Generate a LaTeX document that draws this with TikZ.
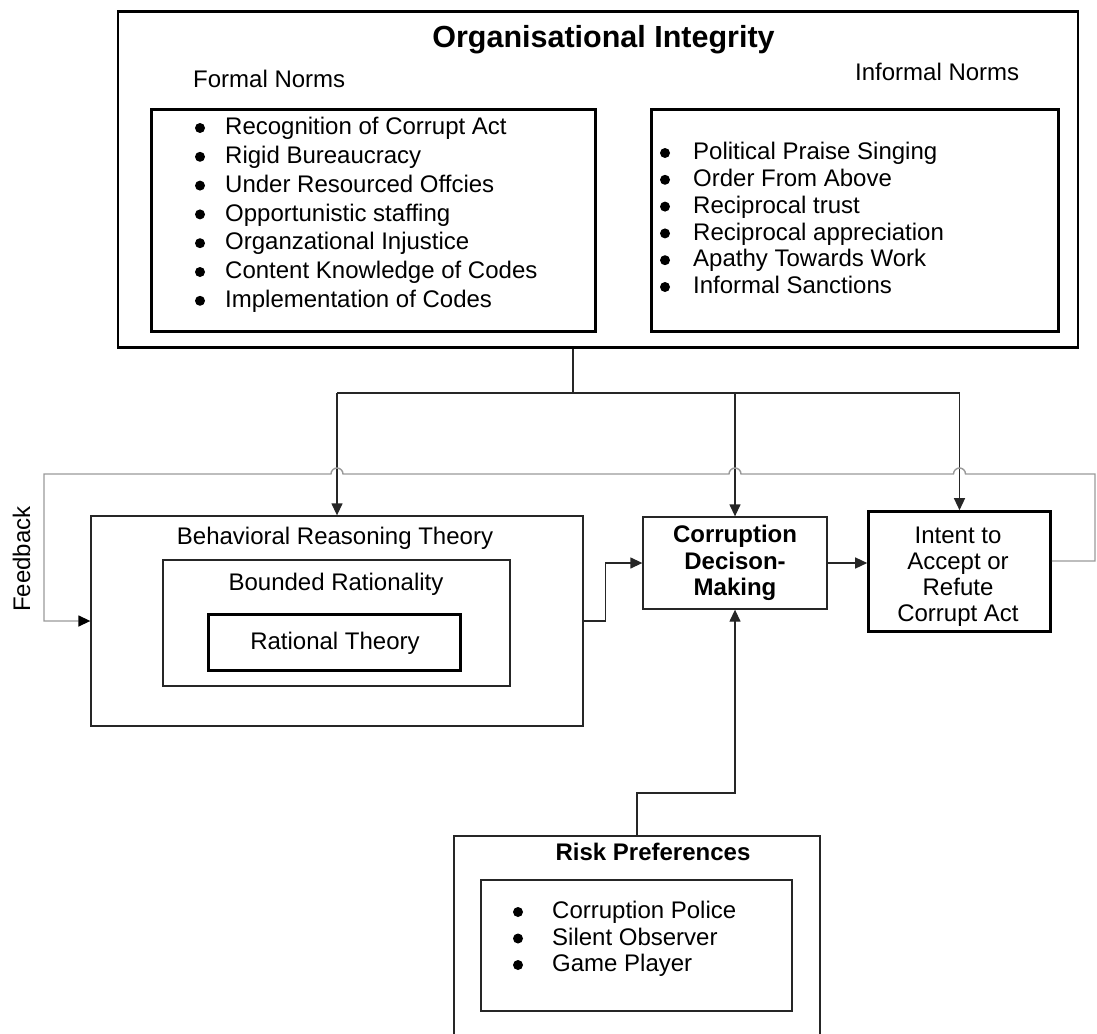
\documentclass[tikz,border=0pt]{standalone}
\usepackage{fontspec}
\setmainfont{Liberation Sans}
\usetikzlibrary{arrows.meta,calc}
\begin{document}
\begin{tikzpicture}[x=1pt,y=1pt,
  thickbox/.style={draw=black,line width=2.6pt,inner sep=0pt,rectangle},
  thinbox/.style={draw=black!85,line width=1.3pt,inner sep=0pt,rectangle},
  txt/.style={font=\fontsize{24}{29}\selectfont,inner sep=0pt,anchor=base},
  btxt/.style={font=\fontsize{24}{29}\selectfont\bfseries,inner sep=0pt,anchor=base},
  bul/.style={fill=black},
  conn/.style={draw=black!85,line width=1.3pt},
  arr/.style={conn,-{Triangle[length=12pt,width=11pt]}},
  fb/.style={draw=black!40,line width=1.4pt,-{Triangle[length=12pt,width=11pt,color=black]}}]
\useasboundingbox (0,0) rectangle (1097,-1033);

% ---------- Organisational Integrity ----------
\node[thickbox,minimum width=960pt,minimum height=336pt] (outer) at (598,-179.5) {};
\node[font=\fontsize{30.5}{36}\selectfont\bfseries,inner sep=0pt,anchor=base] (title) at (603.5,-48) {Organisational Integrity};
\node[txt,anchor=base west] (formal) at (193,-87) {Formal Norms};
\node[txt,anchor=base west] (informal) at (855,-81) {Informal Norms};

\node[thickbox,minimum width=444pt,minimum height=222pt] (fbox) at (373.5,-220.5) {};
\node[thickbox,minimum width=407pt,minimum height=222pt] (ibox) at (855,-220.5) {};

\foreach \t [count=\i] in {Recognition of Corrupt Act, Rigid Bureaucracy, Under Resourced Offcies, Opportunistic staffing, Organzational Injustice, Content Knowledge of Codes, Implementation of Codes}{
  \node[txt,anchor=base west] (fn\i) at (225,{-134.6-28.8*(\i-1)}) {\t};
  \fill[bul] ([shift={(-25pt,6.6pt)}]fn\i.base west) circle[radius=5pt];
}

\foreach \t [count=\i] in {Political Praise Singing, Order From Above, Reciprocal trust, Reciprocal appreciation, Apathy Towards Work, Informal Sanctions}{
  \node[txt,anchor=base west] (in\i) at (693,{-159.6-26.8*(\i-1)}) {\t};
  \fill[bul] ([shift={(-28pt,6.6pt)}]in\i.base west) circle[radius=5pt];
}

% ---------- Middle row ----------
\node[thinbox,minimum width=492pt,minimum height=210pt] (brt) at (337,-621) {};
\node[txt] (brtt) at (335,-544.6) {Behavioral Reasoning Theory};
\node[thinbox,minimum width=347pt,minimum height=126pt] (bnd) at (336.5,-623) {};
\node[txt] (bndt) at (336,-590.6) {Bounded Rationality};
\node[thickbox,minimum width=252pt,minimum height=56pt] (rat) at (334.5,-642.5) {};
\node[txt] (ratt) at (335,-649.6) {Rational Theory};

\node[thinbox,minimum width=184pt,minimum height=92pt] (corr) at (735,-563) {};
\foreach \t [count=\i] in {Corruption, Decison-, Making}
  \node[btxt] (cd\i) at (735,{-542.6-26.5*(\i-1)}) {\t};

\node[thickbox,minimum width=182pt,minimum height=120pt] (intent) at (959.5,-571.5) {};
\foreach \t [count=\i] in {Intent to, Accept or, Refute, Corrupt Act}
  \node[txt] (it\i) at (958,{-543.6-26*(\i-1)}) {\t};

\node[txt,rotate=90,anchor=center] (fbtext) at (21.5,-559) {Feedback};

% ---------- Risk Preferences ----------
\node[thinbox,minimum width=366pt,minimum height=214pt] (riskout) at (637,-943) {};
\node[btxt] (riskt) at (653,-860.6) {Risk Preferences};
\node[thinbox,minimum width=311pt,minimum height=131pt] (riskin) at (636.5,-945.5) {};
\foreach \t [count=\i] in {Corruption Police, Silent Observer, Game Player}{
  \node[txt,anchor=base west] (rp\i) at (552,{-918.6-26.5*(\i-1)}) {\t};
  \fill[bul] ([shift={(-34pt,6.6pt)}]rp\i.base west) circle[radius=5pt];
}

% ---------- Connectors ----------
\coordinate (split) at (573,-393);
\draw[conn] (split |- outer.south) -- (split);
\draw[conn] (brt.north |- split) -- (intent.north |- split);
\draw[arr] (brt.north |- split) -- (brt.north);
\draw[arr] (corr.north |- split) -- (corr.north);
\draw[arr] (intent.north |- split) -- (intent.north);

\draw[arr] (brt.east) -- ++(22,0) |- (corr.west);
\draw[arr] (corr.east) -- (corr.east -| intent.west);

\coordinate (rk) at (637,-793);
\draw[arr] (riskout.north) -- (riskout.north |- rk) -| (corr.south);

% feedback loop with hop-overs
\coordinate (fbr) at (1095,-474);
\coordinate (fbl) at (44,-474);
\coordinate (h1) at (intent.north |- fbr);
\coordinate (h2) at (corr.north |- fbr);
\coordinate (h3) at (brt.north |- fbr);
\draw[fb] ([yshift=10.5pt]intent.east) -| (fbr)
  -- ([xshift=6pt]h1) arc[start angle=0,end angle=180,radius=6pt]
  -- ([xshift=6pt]h2) arc[start angle=0,end angle=180,radius=6pt]
  -- ([xshift=6pt]h3) arc[start angle=0,end angle=180,radius=6pt]
  -- (fbl) |- (brt.west);
\end{tikzpicture}
\end{document}
